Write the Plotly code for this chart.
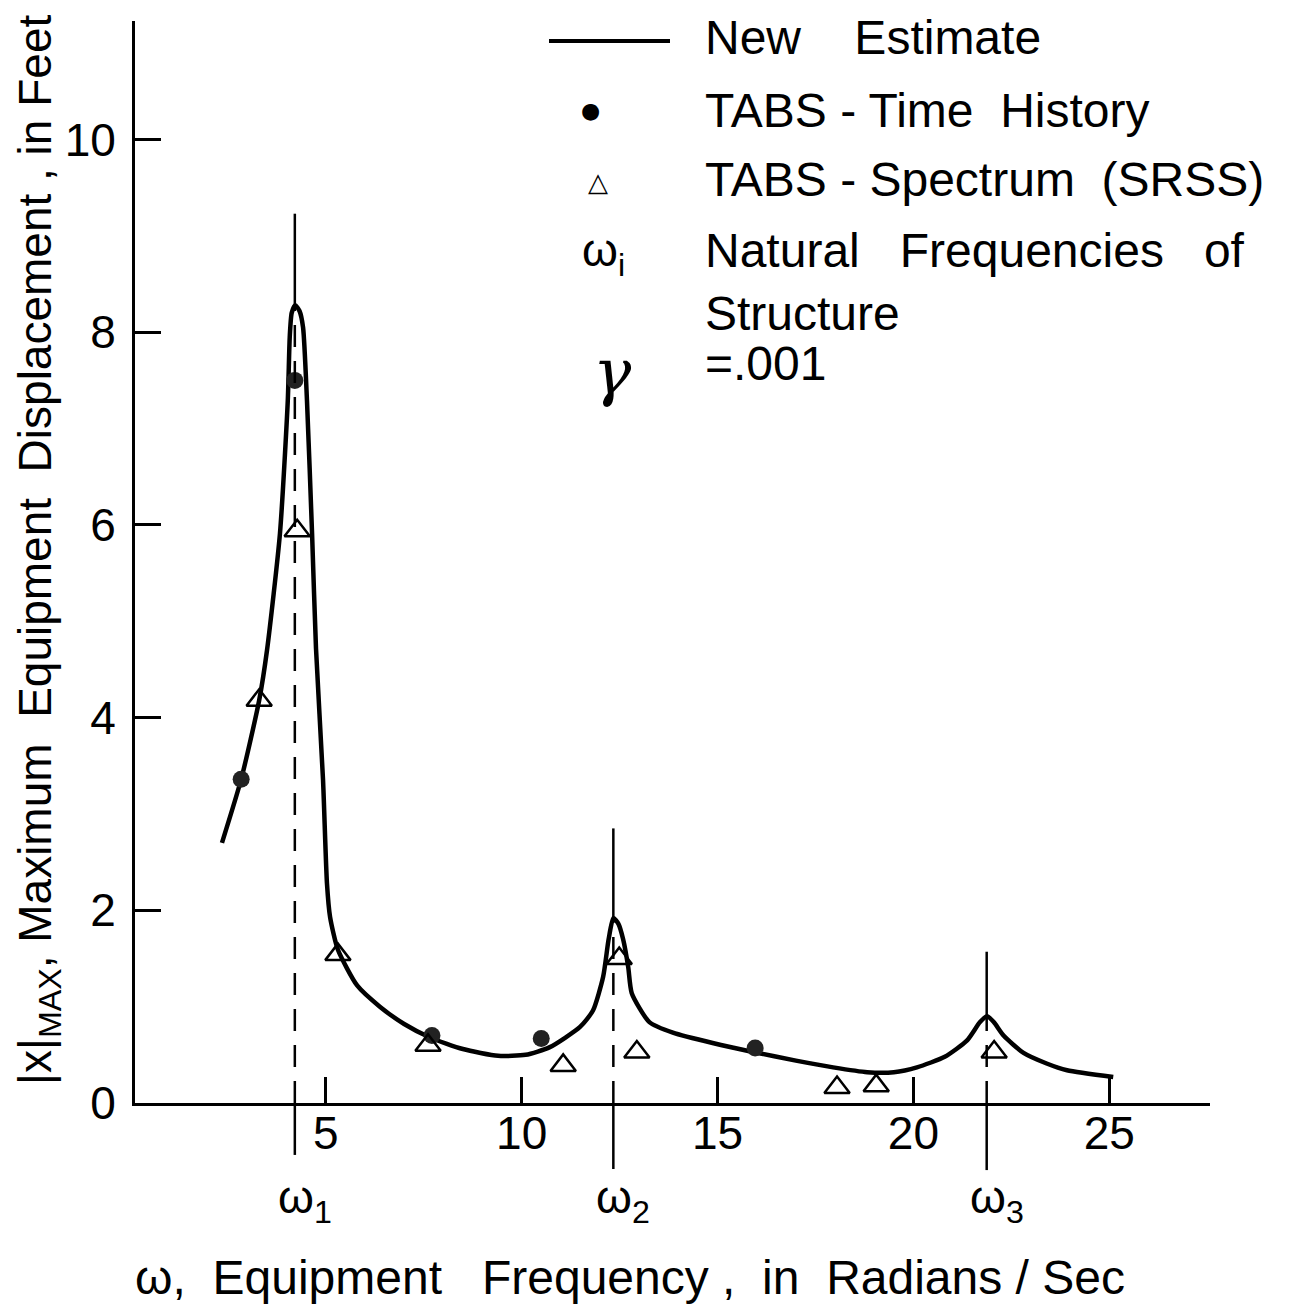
import plotly.graph_objects as go

# New estimate curve (omega in rad/s, displacement in ft)
curve_x = [2.35, 2.84, 3.30, 3.50, 3.83, 4.03, 4.08, 4.13, 4.22, 4.33, 4.42, 4.52, 4.65, 4.75,
           4.93, 5.03, 5.11, 5.31, 5.8, 6.38, 7.0, 7.66, 8.5, 9.4, 10.1, 10.72, 11.49, 11.82,
           12.08, 12.22, 12.34, 12.47, 12.59, 12.72, 12.81, 13.26, 13.86, 14.9, 15.90, 17.0,
           17.95, 18.82, 19.5, 20.09, 20.8, 21.37, 21.70, 21.88, 22.05, 22.3, 22.81, 23.4,
           23.92, 25.1]
curve_y = [2.70, 3.36, 4.18, 4.70, 5.91, 7.29, 7.95, 8.20, 8.28, 8.22, 8.05, 7.29, 5.91, 4.72,
           3.35, 2.28, 1.93, 1.59, 1.22, 1.00, 0.82, 0.68, 0.56, 0.49, 0.50, 0.58, 0.79, 0.96,
           1.31, 1.70, 1.92, 1.86, 1.70, 1.41, 1.14, 0.84, 0.73, 0.62, 0.53, 0.44,
           0.37, 0.32, 0.32, 0.37, 0.48, 0.65, 0.84, 0.90, 0.84, 0.70, 0.52, 0.41,
           0.34, 0.27]

# TABS - time history (filled circles)
th_x = [2.84, 4.21, 7.71, 10.50, 15.96]
th_y = [3.36, 7.50, 0.70, 0.67, 0.57]

# TABS - spectrum SRSS (open triangles)
sp_x = [3.30, 4.27, 5.31, 7.61, 11.06, 12.49, 12.94, 18.05, 19.05, 22.06]
sp_y = [4.18, 5.94, 1.54, 0.60, 0.39, 1.50, 0.53, 0.16, 0.18, 0.53]

# natural frequencies of the structure
omega_n = [4.21, 12.34, 21.87]
omega_names = ["ω<sub>1</sub>", "ω<sub>2</sub>", "ω<sub>3</sub>"]
omega_peak = [8.28, 1.92, 0.90]
omega_top = [9.23, 2.85, 1.57]
omega_bottom = [-0.048, -0.061, -0.062]   # paper units below the axis

x_ticks = [5, 10, 15, 20, 25]
y_ticks = [0, 2, 4, 6, 8, 10]

FONT = "Liberation Sans, Arial, sans-serif"
OFF = 8  # page body margin of the html
W, H = 1295 - OFF, 1310 - OFF
AX_L, AX_R, AX_T, AX_B = 135, 1210, 21, 1103   # plot area in page pixels
L, R, T, B = AX_L - OFF, W - (AX_R - OFF), AX_T - OFF, H - (AX_B - OFF)
PW, PH = AX_R - AX_L, AX_B - AX_T


def px(xp):
    return (xp - AX_L) / PW


def py(yp):
    return (AX_B - yp) / PH


def note(x, y, text, size=48, family=FONT, **kw):
    d = dict(x=px(x), y=py(y), xref="paper", yref="paper", text=text, showarrow=False,
             xanchor="center", yanchor="middle",
             font=dict(size=size, family=family, color="black"))
    d.update(kw)
    return d


fig = go.Figure()

fig.add_trace(go.Scatter(x=curve_x, y=curve_y, mode="lines",
                         line=dict(color="black", width=4.5, shape="spline", smoothing=0.6),
                         showlegend=False, hoverinfo="skip"))
fig.add_trace(go.Scatter(x=th_x, y=th_y, mode="markers",
                         marker=dict(symbol="circle", size=17, color="#222"),
                         showlegend=False))
fig.add_trace(go.Scatter(x=sp_x, y=sp_y, mode="markers",
                         marker=dict(symbol="triangle-up-open", size=22, color="black",
                                     line=dict(width=2.5)),
                         showlegend=False))

shapes = []
for w, pk, top, bot in zip(omega_n, omega_peak, omega_top, omega_bottom):
    shapes.append(dict(type="line", xref="x", yref="y", x0=w, x1=w, y0=pk, y1=top,
                       line=dict(color="black", width=2.5)))
    shapes.append(dict(type="line", xref="x", yref="y", x0=w, x1=w, y0=0, y1=pk,
                       line=dict(color="black", width=2.5, dash="22px,14px")))
    shapes.append(dict(type="line", xref="x", yref="paper", x0=w, x1=w, y0=bot, y1=0,
                       line=dict(color="black", width=2.5)))
# legend line sample
shapes.append(dict(type="line", xref="paper", yref="paper", x0=px(549), x1=px(670),
                   y0=py(41), y1=py(41), line=dict(color="black", width=4)))

annotations = []
for w, name in zip(omega_n, omega_names):
    annotations.append(dict(x=w, xref="x", y=py(1200), yref="paper", text=name,
                            showarrow=False, xanchor="left", xshift=-19, yanchor="middle",
                            font=dict(size=46, family=FONT, color="black")))

legend_rows = [
    ("New    Estimate", 38),
    ("TABS - Time  History", 110),
    ("TABS - Spectrum  (SRSS)", 180),
    ("Natural   Frequencies   of", 250),
    ("Structure", 313),
    ("=.001", 363),
]
for txt, yp in legend_rows:
    annotations.append(note(703, yp, txt, xanchor="left"))

annotations += [
    note(590, 110, "●", size=22, family="DejaVu Sans"),
    note(598, 182, "△", size=26, family="DejaVu Sans"),
    note(603, 254, "ω<sub>i</sub>", size=46),
    note(612, 372, "<i>γ</i>", size=64, family="DejaVu Serif"),
    # axis titles
    note(630, 1277, "ω,  Equipment   Frequency ,  in  Radians / Sec", size=48),
    note(38, 550, "|x|<sub>MAX</sub>, Maximum  Equipment  Displacement , in Feet",
         size=46, textangle=-90, borderpad=0),
]

fig.update_layout(
    width=W, height=H,
    margin=dict(l=L, r=R, t=T, b=B, autoexpand=False),
    plot_bgcolor="white", paper_bgcolor="white",
    shapes=shapes, annotations=annotations,
    font=dict(family=FONT, color="black"),
)
fig.update_xaxes(range=[(AX_L - 129.9) / 39.17, 27.57], showgrid=False, zeroline=False,
                 automargin=False,
                 showline=True, linecolor="black", linewidth=3,
                 tickvals=x_ticks, ticks="inside", ticklen=26, tickwidth=3, tickcolor="black",
                 ticklabelstandoff=-12, tickfont=dict(size=46, family=FONT, color="black"))
fig.update_yaxes(range=[0, 11.23], showgrid=False, zeroline=False,
                 automargin=False,
                 showline=True, linecolor="black", linewidth=3,
                 tickvals=y_ticks, ticks="inside", ticklen=26, tickwidth=3, tickcolor="black",
                 ticklabelstandoff=7, tickfont=dict(size=46, family=FONT, color="black"))

fig.write_html("out.html")
